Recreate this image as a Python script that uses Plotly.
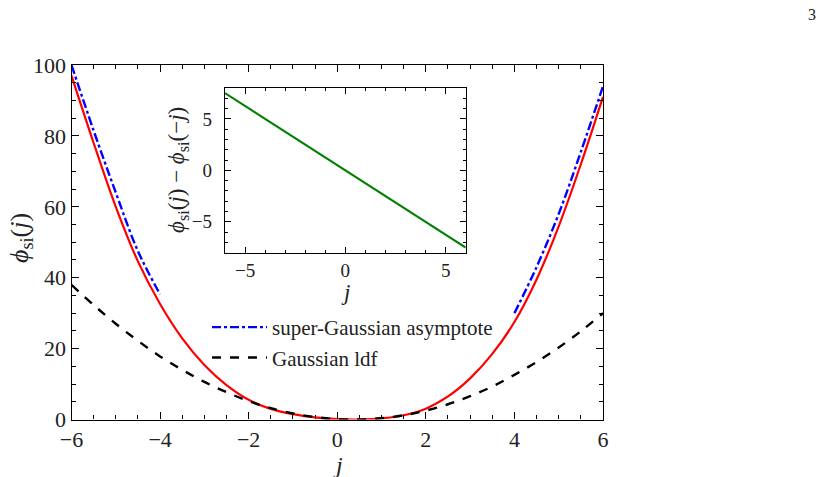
import plotly.graph_objects as go

# ---- data ----
j_grid = [-6, -5.5, -5, -4.5, -4, -3.5, -3, -2.5, -2, -1.5, -1, -0.5, 0, 0.5,
          1, 1.5, 2, 2.5, 3, 3.5, 4, 4.5, 5, 5.5, 6]
phi_si = [97, 78, 60, 44.6, 32.6, 22.9, 15.4, 9.7, 5.55, 3.0, 1.5, 0.6, 0.1, 0.0,
          0.3, 1.2, 3.05, 6.5, 11.6, 18.5, 27.5, 39.5, 54.5, 72, 91]
gauss_ldf = [38, 32.3, 27, 22.2, 17.8, 14, 10.6, 7.7, 5.2, 3.2, 1.7, 0.7, 0.1, 0.0,
             0.4, 1.2, 2.5, 4.3, 6.6, 9.3, 12.6, 16.2, 20.3, 24.9, 30]
asym_j_left = [-6, -5.5, -5, -4.5, -4]
asym_left = [100, 81.5, 64, 47.5, 35.3]
asym_j_right = [4, 4.5, 5, 5.5, 6]
asym_right = [30, 43, 58, 75.5, 94]
inset_j = [-6, -3, 0, 3, 6]
inset_diff = [7.5, 3.75, 0, -3.75, -7.5]

FONT = "Liberation Serif"
TXT = "#222"
W, H = 821, 477

def px(x):
    return x / W

def py(y):
    return 1 - y / H

fig = go.Figure()

fig.add_trace(go.Scatter(x=j_grid, y=phi_si, mode="lines", line=dict(color="red", width=2.2, shape="spline"),
                         showlegend=False, xaxis="x", yaxis="y"))
fig.add_trace(go.Scatter(x=asym_j_left + [None] + asym_j_right, y=asym_left + [None] + asym_right,
                         mode="lines", connectgaps=False,
                         line=dict(color="blue", width=2.4, dash="dashdot", shape="spline"),
                         name="super-Gaussian asymptote", xaxis="x", yaxis="y"))
fig.add_trace(go.Scatter(x=j_grid, y=gauss_ldf, mode="lines",
                         line=dict(color="black", width=2.4, dash="dash", shape="spline"),
                         name="Gaussian ldf", xaxis="x", yaxis="y"))
fig.add_trace(go.Scatter(x=inset_j, y=inset_diff, mode="lines", line=dict(color="green", width=2.0),
                         showlegend=False, xaxis="x2", yaxis="y2"))

axis_common = dict(showline=True, linecolor="black", linewidth=1.3, mirror="allticks",
                   ticks="inside", tickcolor="black", tickwidth=1.3, automargin=False,
                   showgrid=False, zeroline=False)

def note(text, x, y, size, angle=0):
    return dict(text=text, x=px(x), y=py(y), xref="paper", yref="paper", showarrow=False,
                xanchor="center", yanchor="middle", textangle=angle,
                font=dict(size=size, family=FONT, color=TXT))

fig.update_layout(
    template="none",
    width=W, height=H, margin=dict(l=0, r=0, t=0, b=0, pad=0, autoexpand=False),
    paper_bgcolor="white", plot_bgcolor="rgba(0,0,0,0)",
    font=dict(family=FONT, color=TXT, size=20),
    xaxis=dict(domain=[px(71.5), px(603)], range=[-6, 6], dtick=2, tick0=0, ticklen=7,
               tickfont=dict(size=22, color=TXT), anchor="y",
               minor=dict(dtick=0.5, ticklen=4, ticks="inside", tickcolor="black", tickwidth=1),
               **axis_common),
    yaxis=dict(domain=[py(419.5), py(65)], range=[0, 100], dtick=20, tick0=0, ticklen=7,
               tickfont=dict(size=22, color=TXT), anchor="x",
               minor=dict(dtick=5, ticklen=4, ticks="inside", tickcolor="black", tickwidth=1),
               **axis_common),
    xaxis2=dict(domain=[px(225), px(465.7)], range=[-6, 6], dtick=5, tick0=0, ticklen=6,
                tickfont=dict(size=19, color=TXT), anchor="y2",
                minor=dict(dtick=1, ticklen=3, ticks="inside", tickcolor="black", tickwidth=1),
                **axis_common),
    yaxis2=dict(domain=[py(252.7), py(88)], range=[-8, 8], dtick=5, tick0=0, ticklen=6,
                tickfont=dict(size=19, color=TXT), anchor="x2", ticklabelstandoff=8,
                minor=dict(dtick=1, ticklen=3, ticks="inside", tickcolor="black", tickwidth=1),
                **axis_common),
    showlegend=True,
    legend=dict(x=px(207), y=py(307), xanchor="left", yanchor="top", bgcolor="rgba(0,0,0,0)",
                borderwidth=0, itemwidth=55,
                font=dict(size=21, family=FONT, color=TXT), tracegroupgap=0),
    annotations=[
        note("<i>j</i>", 338, 465, 24),
        note("<i>ϕ</i><sub>si</sub>(<i>j</i>)", 21, 238, 26, -90),
        note("<i>j</i>", 345, 292, 23),
        note("<i>ϕ</i><sub>si</sub>(<i>j</i>) − <i>ϕ</i><sub>si</sub>(−<i>j</i>)", 178, 170, 23, -90),
        note("3", 812, 15, 16),
    ],
)

fig.write_html("out.html")
